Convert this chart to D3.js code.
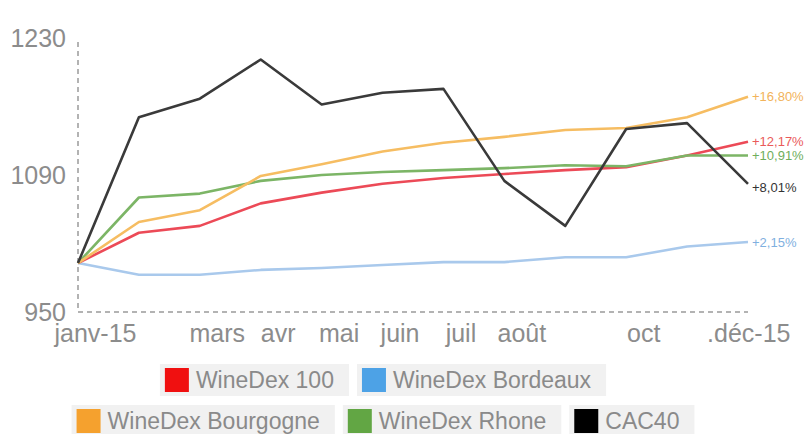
<!DOCTYPE html>
<html>
<head>
<meta charset="utf-8">
<script src="https://cdn.jsdelivr.net/npm/d3@7"></script>
<style>
  body { margin: 0; background: #fff; }
  svg { display: block; font-family: "Liberation Sans", Arial, sans-serif; }
</style>
</head>
<body>
<div id="chart"></div>
<script>
// index values, janv-15 = 1000
const months = ['janv', 'fév', 'mars', 'avr', 'mai', 'juin', 'juil', 'août', 'sept', 'oct', 'nov', 'déc']
const monthLabels = ['janv-15', '', 'mars', 'avr', 'mai', 'juin', 'juil', 'août', '', 'oct', '', '.déc-15']

const wine100 = [1000, 1031, 1038, 1061, 1072, 1081, 1087, 1091, 1095, 1098, 1110, 1124]
const bordeaux = [1000, 988, 988, 993, 995, 998, 1001, 1001, 1006, 1006, 1017, 1021.5]
const bourgogne = [1000, 1042, 1054, 1089, 1101, 1114, 1123, 1129, 1136, 1138, 1149, 1170]
const rhone = [1000, 1067, 1071, 1084, 1090, 1093, 1095, 1097, 1100, 1099, 1110, 1110]
const cac40 = [1000, 1149, 1168, 1208, 1162, 1174, 1178, 1084, 1038, 1137, 1143, 1081]

const seriesNames = ['WineDex 100', 'WineDex Bordeaux', 'WineDex Bourgogne', 'WineDex Rhone', 'CAC40']
const endLabels = ['+12,17%', '+2,15%', '+16,80%', '+10,91%', '+8,01%']
const yTicks = [950, 1090, 1230]

const lineColors = ['#ec4a57', '#a9c9ec', '#f6bd62', '#7cb566', '#3a3a3a']
const keyColors = ['#f01010', '#4da2e6', '#f5a12e', '#62a644', '#000000']
const labelColors = ['#ea5a5a', '#7fb0e0', '#f2b35a', '#6fae5c', '#333333']

const width = 807, height = 434
const svg = d3.select('#chart').append('svg').attr('width', width).attr('height', height)
svg.append('rect').attr('width', width).attr('height', height).attr('fill', '#fff')

const x = d3.scalePoint().domain(months).range([78, 748])
const y = d3.scaleLinear().domain([950, 1230]).range([312, 38])

// dashed axes
svg.append('line')
  .attr('x1', x('janv')).attr('x2', x('janv')).attr('y1', y(1226)).attr('y2', y(950))
  .attr('stroke', '#9a9a9a').attr('stroke-width', 1.5).attr('stroke-dasharray', '5,4')
svg.append('line')
  .attr('x1', x('janv')).attr('x2', x('déc')).attr('y1', y(950)).attr('y2', y(950))
  .attr('stroke', '#9a9a9a').attr('stroke-width', 1.5).attr('stroke-dasharray', '5,4')

// y labels
svg.append('g')
  .selectAll('text')
  .data(yTicks)
  .join('text')
  .attr('x', 66)
  .attr('y', (d) => y(d))
  .attr('dy', '0.36em')
  .attr('text-anchor', 'end')
  .attr('font-size', 25)
  .attr('fill', '#8c8c8c')
  .text((d) => d)

// x labels
const xAxis = d3.axisBottom(x).tickSize(0).tickFormat((d, i) => monthLabels[i])
const gx = svg.append('g').attr('transform', `translate(0,${y(950) + 6})`).call(xAxis)
gx.select('.domain').remove()
gx.selectAll('text')
  .attr('font-size', 25)
  .attr('font-family', '"Liberation Sans", Arial, sans-serif')
  .attr('fill', '#8c8c8c')
  .attr('dx', 17)
  .attr('dy', '0.85em')
gx.selectAll('.tick').filter((d) => d === 'déc').select('text')
  .attr('text-anchor', 'end').attr('dx', 42)

// lines
const allSeries = [wine100, bordeaux, bourgogne, rhone, cac40]
const line = d3.line().x((d, i) => x(months[i])).y((d) => y(d))
const drawOrder = [1, 0, 3, 2, 4]

svg.append('g')
  .attr('fill', 'none')
  .attr('stroke-width', 2.6)
  .attr('stroke-linejoin', 'round')
  .selectAll('path')
  .data(drawOrder)
  .join('path')
  .attr('stroke', (k) => lineColors[k])
  .attr('d', (k) => line(allSeries[k]))

// end labels
svg.append('g')
  .selectAll('text')
  .data(allSeries)
  .join('text')
  .attr('x', x('déc') + 4)
  .attr('y', (d, i) => y(d[d.length - 1]) + (i === 4 ? 4 : 0))
  .attr('dy', '0.35em')
  .attr('font-size', 13)
  .attr('fill', (d, i) => labelColors[i])
  .text((d, i) => endLabels[i])

// legend
const legendRows = [[0, 1], [2, 3, 4]]
const rowTop = [364, 405]
const legend = svg.append('g').attr('font-size', 23)
legendRows.forEach((row, r) => {
  const items = row.map((k) => {
    const t = legend.append('text').text(seriesNames[k])
    const w = t.node().getComputedTextLength()
    t.remove()
    return { k, w: 36 + w + 15 }
  })
  const gap = 8
  const total = d3.sum(items, (d) => d.w) + gap * (items.length - 1)
  let cx = 383 - total / 2
  items.forEach((it) => {
    const g = legend.append('g').attr('transform', `translate(${cx},${rowTop[r]})`)
    g.append('rect').attr('width', it.w).attr('height', 32).attr('fill', '#f1f1f1')
    g.append('rect').attr('x', 5).attr('y', 4).attr('width', 24).attr('height', 24).attr('fill', keyColors[it.k])
    g.append('text').attr('x', 36).attr('y', 16).attr('dy', '0.36em').attr('fill', '#8a8a8a').text(seriesNames[it.k])
    cx += it.w + gap
  })
})
</script>
</body>
</html>
